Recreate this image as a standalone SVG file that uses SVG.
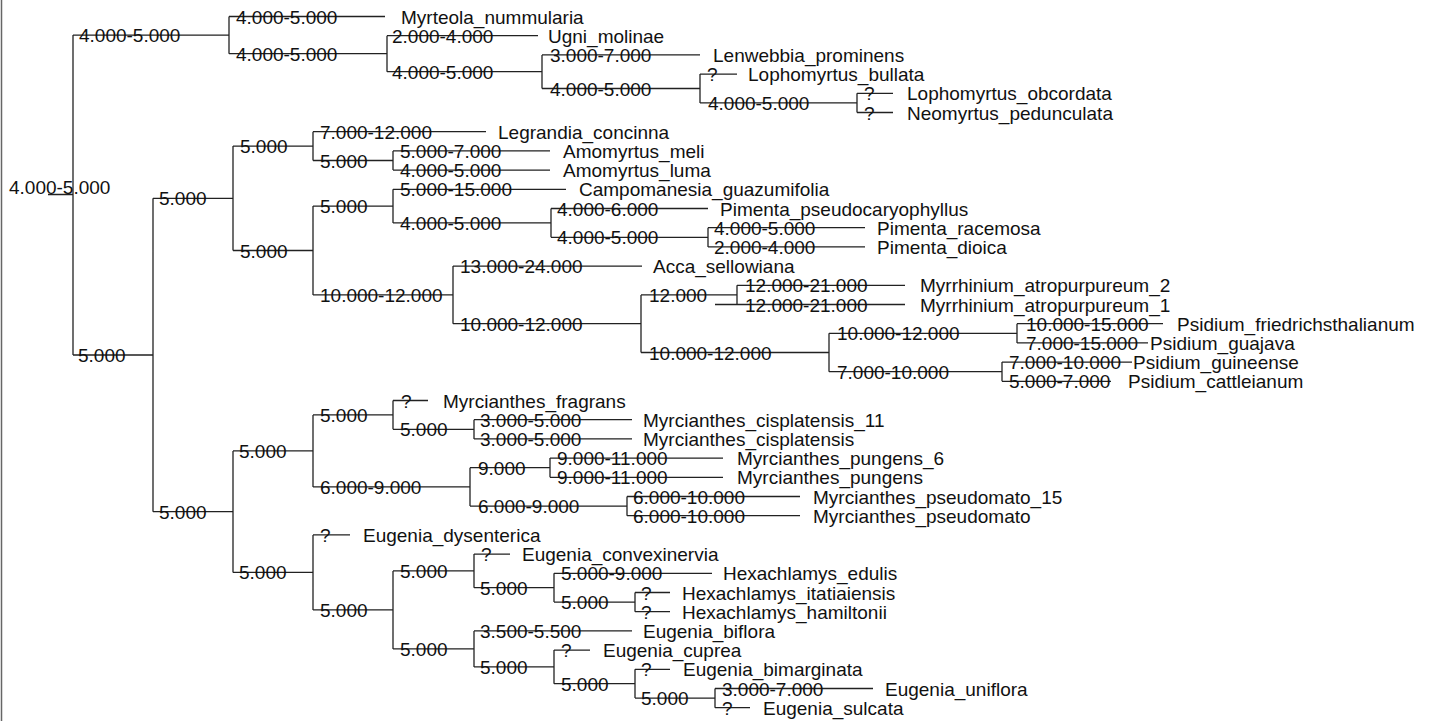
<svg xmlns="http://www.w3.org/2000/svg" width="1432" height="721" viewBox="0 0 1432 721">
<style>
.br{fill:none;stroke:#222;stroke-width:1.3}
text{font-family:"Liberation Sans",Arial,sans-serif;font-size:19px;fill:#111}
</style>
<rect x="0" y="0" width="1432" height="721" fill="#fff"/>
<path d="M1.5 0V721" stroke="#666" stroke-width="1.5"/>
<g id="connectors">
<path class="br" d="M73 35.1V355M48 194.5H73M73 35.1H229M73 355H153"/>
<path class="br" d="M229 16.5V53.7M229 16.5H385M229 53.7H387M387 35.7V71.7M387 35.7H538M387 71.7H542M542 54.9V88.5M542 54.9H700M542 88.5H700M700 74.1V102.9M700 74.1H737M700 102.9H857M857 93.3V112.5M857 93.3H893M857 112.5H893"/>
<path class="br" d="M153 198.3V511.65M153 198.3H233M153 511.65H233M233 146.1V250.5M233 146.1H313M233 250.5H313M313 131.7V160.5M313 131.7H486M313 160.5H393M393 150.9V170.1M393 150.9H550M393 170.1H550"/>
<path class="br" d="M313 206.1V294.9M313 206.1H393M313 294.9H453M393 189.3V222.9M393 189.3H566M393 222.9H551M551 208.5V237.3M551 208.5H708M551 237.3H708M708 227.7V246.9M708 227.7H865M708 246.9H865"/>
<path class="br" d="M453 266.1V323.7M453 266.1H642M453 323.7H641M641 294.9V352.5M641 294.9H737M641 352.5H829M737 285.3V304.5M737 285.3H905M715 304.5H905M829 333.3V371.7M829 333.3H1017M829 371.7H1002M1017 323.7V342.9M1017 323.7H1163M1017 342.9H1148M1002 362.1V381.3M1002 362.1H1132M1002 381.3H1111"/>
<path class="br" d="M233 450.9V572.4M233 450.9H313M233 572.4H313M313 414.9V486.9M313 414.9H393M313 486.9H470M393 400.5V429.3M393 400.5H428M393 429.3H474M474 419.7V438.9M474 419.7H632M474 438.9H632M470 467.7V506.1M470 467.7H550M470 506.1H627M550 458.1V477.3M550 458.1H723M550 477.3H723M627 496.5V515.7M627 496.5H800M627 515.7H800"/>
<path class="br" d="M313 534.9V609.9M313 534.9H350M313 609.9H393M393 570.9V648.9M393 570.9H474M393 648.9H474M474 554.1V587.7M474 554.1H510M474 587.7H554M554 573.3V602.1M554 573.3H712M554 602.1H635M635 592.5V611.7M635 592.5H670M635 611.7H670M474 630.9V666.9M474 630.9H632M474 666.9H554M554 650.1V683.7M554 650.1H590M554 683.7H635M635 669.3V698.1M635 669.3H670M635 698.1H715M715 688.5V707.7M715 688.5H873M715 707.7H750"/>
</g>
<g id="edge-labels">
<text x="79" y="42.1">4.000-5.000</text>
<text x="236" y="23.5">4.000-5.000</text>
<text x="236" y="60.7">4.000-5.000</text>
<text x="392" y="42.7">2.000-4.000</text>
<text x="392" y="78.7">4.000-5.000</text>
<text x="550" y="61.9">3.000-7.000</text>
<text x="550" y="95.5">4.000-5.000</text>
<text x="707" y="81.1">?</text>
<text x="708" y="109.9">4.000-5.000</text>
<text x="864" y="100.3">?</text>
<text x="864" y="119.5">?</text>
<text x="78" y="362">5.000</text>
<text x="159" y="205.3">5.000</text>
<text x="159" y="518.65">5.000</text>
<text x="240" y="153.1">5.000</text>
<text x="240" y="257.5">5.000</text>
<text x="320" y="138.7">7.000-12.000</text>
<text x="320" y="167.5">5.000</text>
<text x="400" y="157.9">5.000-7.000</text>
<text x="400" y="177.1">4.000-5.000</text>
<text x="320" y="213.1">5.000</text>
<text x="320" y="301.9">10.000-12.000</text>
<text x="400" y="196.3">5.000-15.000</text>
<text x="400" y="229.9">4.000-5.000</text>
<text x="557" y="215.5">4.000-6.000</text>
<text x="557" y="244.3">4.000-5.000</text>
<text x="714" y="234.7">4.000-5.000</text>
<text x="714" y="253.9">2.000-4.000</text>
<text x="460" y="273.1">13.000-24.000</text>
<text x="460" y="330.7">10.000-12.000</text>
<text x="649" y="301.9">12.000</text>
<text x="649" y="359.5">10.000-12.000</text>
<text x="745" y="292.3">12.000-21.000</text>
<text x="745" y="311.5">12.000-21.000</text>
<text x="837" y="340.3">10.000-12.000</text>
<text x="837" y="378.7">7.000-10.000</text>
<text x="1026" y="330.7">10.000-15.000</text>
<text x="1026" y="349.9">7.000-15.000</text>
<text x="1009" y="369.1">7.000-10.000</text>
<text x="1009" y="388.3">5.000-7.000</text>
<text x="239" y="457.9">5.000</text>
<text x="239" y="579.4">5.000</text>
<text x="320" y="421.9">5.000</text>
<text x="320" y="493.9">6.000-9.000</text>
<text x="401" y="407.5">?</text>
<text x="400" y="436.3">5.000</text>
<text x="480" y="426.7">3.000-5.000</text>
<text x="480" y="445.9">3.000-5.000</text>
<text x="478" y="474.7">9.000</text>
<text x="478" y="513.1">6.000-9.000</text>
<text x="557" y="465.1">9.000-11.000</text>
<text x="557" y="484.3">9.000-11.000</text>
<text x="633" y="503.5">6.000-10.000</text>
<text x="633" y="522.7">6.000-10.000</text>
<text x="320" y="541.9">?</text>
<text x="320" y="616.9">5.000</text>
<text x="400" y="577.9">5.000</text>
<text x="400" y="655.9">5.000</text>
<text x="481" y="561.1">?</text>
<text x="480" y="594.7">5.000</text>
<text x="561" y="580.3">5.000-9.000</text>
<text x="561" y="609.1">5.000</text>
<text x="641" y="599.5">?</text>
<text x="641" y="618.7">?</text>
<text x="480" y="637.9">3.500-5.500</text>
<text x="480" y="673.9">5.000</text>
<text x="561" y="657.1">?</text>
<text x="561" y="690.7">5.000</text>
<text x="641" y="676.3">?</text>
<text x="641" y="705.1">5.000</text>
<text x="722" y="695.5">3.000-7.000</text>
<text x="722" y="714.7">?</text>
</g>
<g id="root"><text x="9" y="193.5">4.000-5.000</text></g>
<g id="tip-Myrteola_nummularia"><text x="401" y="23.5">Myrteola_nummularia</text></g>
<g id="tip-Ugni_molinae"><text x="548" y="42.7">Ugni_molinae</text></g>
<g id="tip-Lenwebbia_prominens"><text x="713" y="61.9">Lenwebbia_prominens</text></g>
<g id="tip-Lophomyrtus_bullata"><text x="748" y="81.1">Lophomyrtus_bullata</text></g>
<g id="tip-Lophomyrtus_obcordata"><text x="907" y="100.3">Lophomyrtus_obcordata</text></g>
<g id="tip-Neomyrtus_pedunculata"><text x="907" y="119.5">Neomyrtus_pedunculata</text></g>
<g id="tip-Legrandia_concinna"><text x="498" y="138.7">Legrandia_concinna</text></g>
<g id="tip-Amomyrtus_meli"><text x="563" y="157.9">Amomyrtus_meli</text></g>
<g id="tip-Amomyrtus_luma"><text x="563" y="177.1">Amomyrtus_luma</text></g>
<g id="tip-Campomanesia_guazumifolia"><text x="579" y="196.3">Campomanesia_guazumifolia</text></g>
<g id="tip-Pimenta_pseudocaryophyllus"><text x="720" y="215.5">Pimenta_pseudocaryophyllus</text></g>
<g id="tip-Pimenta_racemosa"><text x="877" y="234.7">Pimenta_racemosa</text></g>
<g id="tip-Pimenta_dioica"><text x="877" y="253.9">Pimenta_dioica</text></g>
<g id="tip-Acca_sellowiana"><text x="653" y="273.1">Acca_sellowiana</text></g>
<g id="tip-Myrrhinium_atropurpureum_2"><text x="920" y="292.3">Myrrhinium_atropurpureum_2</text></g>
<g id="tip-Myrrhinium_atropurpureum_1"><text x="920" y="311.5">Myrrhinium_atropurpureum_1</text></g>
<g id="tip-Psidium_friedrichsthalianum"><text x="1177" y="330.7">Psidium_friedrichsthalianum</text></g>
<g id="tip-Psidium_guajava"><text x="1150" y="349.9">Psidium_guajava</text></g>
<g id="tip-Psidium_guineense"><text x="1133" y="369.1">Psidium_guineense</text></g>
<g id="tip-Psidium_cattleianum"><text x="1128" y="388.3">Psidium_cattleianum</text></g>
<g id="tip-Myrcianthes_fragrans"><text x="443" y="407.5">Myrcianthes_fragrans</text></g>
<g id="tip-Myrcianthes_cisplatensis_11"><text x="643" y="426.7">Myrcianthes_cisplatensis_11</text></g>
<g id="tip-Myrcianthes_cisplatensis"><text x="643" y="445.9">Myrcianthes_cisplatensis</text></g>
<g id="tip-Myrcianthes_pungens_6"><text x="737" y="465.1">Myrcianthes_pungens_6</text></g>
<g id="tip-Myrcianthes_pungens"><text x="737" y="484.3">Myrcianthes_pungens</text></g>
<g id="tip-Myrcianthes_pseudomato_15"><text x="813" y="503.5">Myrcianthes_pseudomato_15</text></g>
<g id="tip-Myrcianthes_pseudomato"><text x="813" y="522.7">Myrcianthes_pseudomato</text></g>
<g id="tip-Eugenia_dysenterica"><text x="363" y="541.9">Eugenia_dysenterica</text></g>
<g id="tip-Eugenia_convexinervia"><text x="522" y="561.1">Eugenia_convexinervia</text></g>
<g id="tip-Hexachlamys_edulis"><text x="723" y="580.3">Hexachlamys_edulis</text></g>
<g id="tip-Hexachlamys_itatiaiensis"><text x="682" y="599.5">Hexachlamys_itatiaiensis</text></g>
<g id="tip-Hexachlamys_hamiltonii"><text x="682" y="618.7">Hexachlamys_hamiltonii</text></g>
<g id="tip-Eugenia_biflora"><text x="643" y="637.9">Eugenia_biflora</text></g>
<g id="tip-Eugenia_cuprea"><text x="603" y="657.1">Eugenia_cuprea</text></g>
<g id="tip-Eugenia_bimarginata"><text x="683" y="676.3">Eugenia_bimarginata</text></g>
<g id="tip-Eugenia_uniflora"><text x="885" y="695.5">Eugenia_uniflora</text></g>
<g id="tip-Eugenia_sulcata"><text x="763" y="714.7">Eugenia_sulcata</text></g>
</svg>
